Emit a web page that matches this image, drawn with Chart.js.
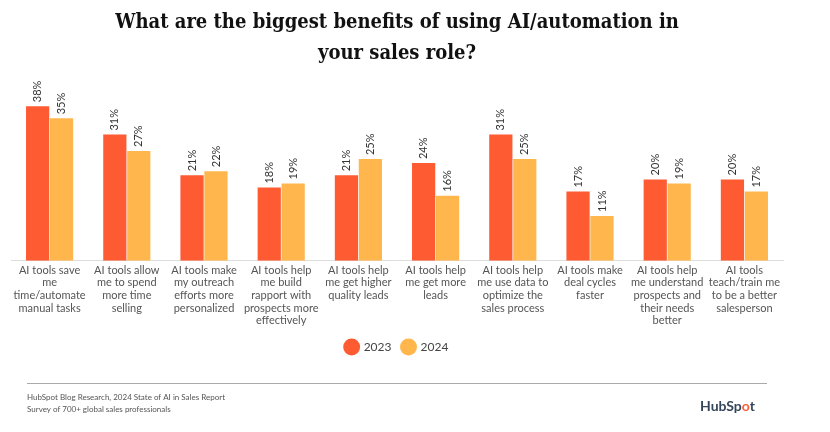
<!DOCTYPE html>
<html lang="en">
<head>
    <meta charset="UTF-8">
    <title>AI/automation benefits in sales</title>
    <script src="https://cdn.jsdelivr.net/npm/chart.js"></script>
    <style>
        body { margin: 0; background: #fff; }
        #wrap { width: 830px; height: 432px; }
    </style>
</head>
<body>
    <div id="wrap"><canvas id="myChart"></canvas></div>

    <script>
        const categories = [
            ["AI tools save", "me", "time/automate", "manual tasks"],
            ["AI tools allow", "me to spend", "more time", "selling"],
            ["AI tools make", "my outreach", "efforts more", "personalized"],
            ["AI tools help", "me build", "rapport with", "prospects more", "effectively"],
            ["AI tools help", "me get higher", "quality leads"],
            ["AI tools help", "me get more", "leads"],
            ["AI tools help", "me use data to", "optimize the", "sales process"],
            ["AI tools make", "deal cycles", "faster"],
            ["AI tools help", "me understand", "prospects and", "their needs", "better"],
            ["AI tools", "teach/train me", "to be a better", "salesperson"]
        ];
        const values2023 = [38, 31, 21, 18, 21, 24, 31, 17, 20, 20];
        const values2024 = [35, 27, 22, 19, 25, 16, 25, 11, 19, 17];

        // value labels drawn vertically above each bar
        const barLabels = {
            id: "barLabels",
            afterDatasetsDraw(chart) {
                const ctx = chart.ctx;
                ctx.save();
                ctx.font = "11px Lato";
                ctx.fillStyle = "#333";
                ctx.textAlign = "left";
                ctx.textBaseline = "middle";
                chart.data.datasets.forEach((ds, i) => {
                    chart.getDatasetMeta(i).data.forEach((bar, j) => {
                        ctx.save();
                        ctx.translate(bar.x, bar.y - 4);
                        ctx.rotate(-Math.PI / 2);
                        ctx.fillText(ds.data[j] + "%", 0, 0);
                        ctx.restore();
                    });
                });
                ctx.restore();
            }
        };

        // source note and logo at the bottom
        const footer = {
            id: "footer",
            afterDraw(chart) {
                const ctx = chart.ctx;
                ctx.save();
                ctx.strokeStyle = "#aaa";
                ctx.lineWidth = 1;
                ctx.beginPath();
                ctx.moveTo(27, 383.5);
                ctx.lineTo(767, 383.5);
                ctx.stroke();
                ctx.fillStyle = "#555";
                ctx.font = "8px Lato";
                ctx.textBaseline = "middle";
                ctx.fillText("HubSpot Blog Research, 2024 State of AI in Sales Report", 27, 397);
                ctx.fillText("Survey of 700+ global sales professionals", 27, 409);
                ctx.font = "bold 14px Lato";
                ctx.fillStyle = "#33475b";
                let x = 700;
                ctx.fillText("HubSp", x, 406);
                x += ctx.measureText("HubSp").width;
                ctx.fillStyle = "#ff5c35";
                ctx.fillText("o", x, 406);
                x += ctx.measureText("o").width;
                ctx.fillStyle = "#33475b";
                ctx.fillText("t", x, 406);
                ctx.restore();
            }
        };

        new Chart(document.getElementById("myChart"), {
            type: "bar",
            data: {
                labels: categories,
                datasets: [
                    {
                        label: "2023",
                        data: values2023,
                        backgroundColor: "#fe5b33"
                    },
                    {
                        label: "2024",
                        data: values2024,
                        backgroundColor: "#ffb74d"
                    }
                ]
            },
            options: {
                responsive: true,
                maintainAspectRatio: false,
                animation: false,
                barPercentage: 0.97,
                categoryPercentage: 0.62,
                layout: {
                    padding: { left: 11, right: 47, top: 0, bottom: 69 }
                },
                plugins: {
                    title: {
                        display: true,
                        text: ["What are the biggest benefits of using AI/automation in", "your sales role?"],
                        color: "#111",
                        font: { family: "DejaVu Serif Condensed", weight: "bold", size: 20, lineHeight: 1.55 },
                        padding: { top: 7, bottom: 29 }
                    },
                    legend: {
                        position: "bottom",
                        labels: {
                            usePointStyle: true,
                            pointStyle: "circle",
                            boxWidth: 12,
                            boxHeight: 12,
                            padding: 11,
                            color: "#444",
                            font: { family: "Lato", size: 12 }
                        }
                    },
                    tooltip: { enabled: false }
                },
                scales: {
                    x: {
                        grid: { display: false, drawTicks: false },
                        border: { display: true, color: "#ddd" },
                        ticks: {
                            maxRotation: 0,
                            autoSkip: false,
                            padding: 3,
                            color: "#555",
                            font: { family: "Lato", size: 11, lineHeight: 1.15 }
                        }
                    },
                    y: {
                        display: false,
                        min: 0,
                        max: 40
                    }
                }
            },
            plugins: [barLabels, footer]
        });
    </script>
</body>
</html>
